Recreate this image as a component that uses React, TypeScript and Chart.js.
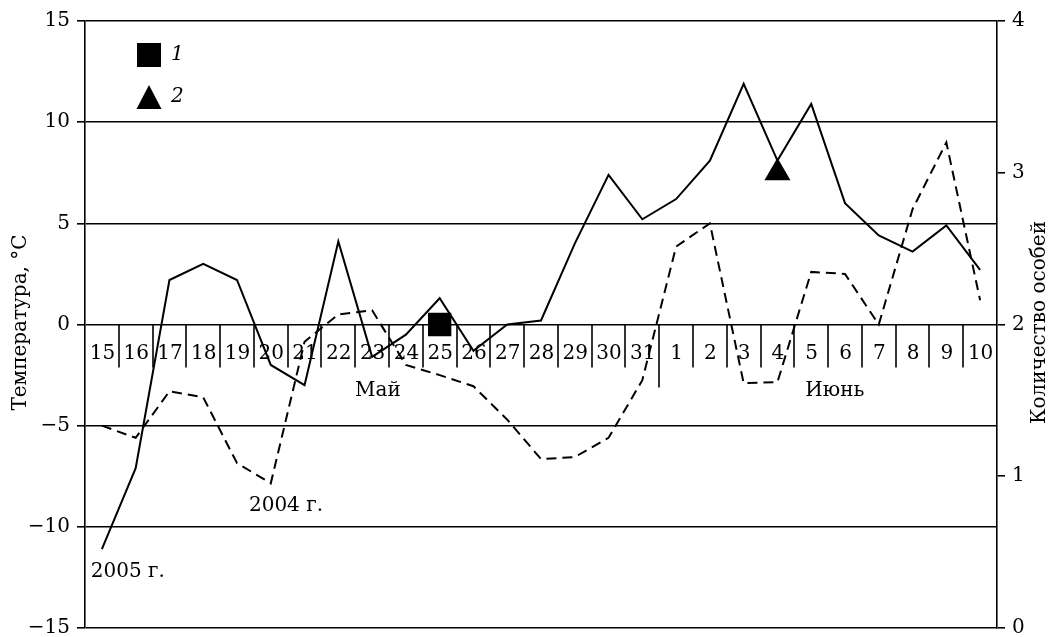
import React, { useEffect, useRef } from 'react';
import { Chart, registerables } from 'chart.js';

Chart.register(...registerables);

// ---- data ----
const categories = [
  '15', '16', '17', '18', '19', '20', '21', '22', '23', '24', '25', '26', '27', '28', '29', '30', '31',
  '1', '2', '3', '4', '5', '6', '7', '8', '9', '10',
];
const temp2005 = [
  -11.1, -7.1, 2.2, 3.0, 2.2, -2.0, -3.0, 4.1, -1.6, -0.5, 1.3, -1.3, 0.0, 0.2, 4.0, 7.4, 5.2,
  6.2, 8.1, 11.9, 8.1, 10.9, 6.0, 4.4, 3.6, 4.9, 2.7,
];
const temp2004 = [
  -5.0, -5.6, -3.3, -3.6, -6.85, -7.85, -0.85, 0.5, 0.7, -2.0, -2.5, -3.05, -4.7, -6.65, -6.55, -5.6, -2.75,
  3.85, 5.0, -2.9, -2.85, 2.6, 2.5, 0.0, 5.7, 9.0, 1.2,
];
const count1Days = ['25'];
const count1Values = [2];
const count2Days = ['4'];
const count2Values = [3];
const monthNames = ['Май', 'Июнь'];
const monthFirstDays = ['15', '1'];
const monthLastDays = ['31', '10'];
const seriesLabels = ['2005 г.', '2004 г.'];
const legendLabels = ['1', '2'];
const leftTitle = 'Температура, °С';
const rightTitle = 'Количество особей';

const FONT = '"DejaVu Serif", "Liberation Serif", serif';
const FS = 20;

const annotPlugin = {
  id: 'annot',
  beforeDatasetsDraw(chart: any) {
    const { ctx, chartArea, scales } = chart;
    const x = scales.x;
    const y = scales.y;
    const y0 = y.getPixelForValue(0);
    ctx.save();
    ctx.strokeStyle = '#000';
    ctx.lineWidth = 1.6;
    const breakIdx = categories.indexOf(monthFirstDays[1]);
    for (let i = 1; i < categories.length; i++) {
      const xs = Math.round((x.getPixelForValue(i - 1) + x.getPixelForValue(i)) / 2);
      const len = i === breakIdx ? 63 : 43;
      ctx.beginPath();
      ctx.moveTo(xs, y0);
      ctx.lineTo(xs, y0 + len);
      ctx.stroke();
    }
    ctx.fillStyle = '#000';
    ctx.font = `${FS}px ${FONT}`;
    ctx.textAlign = 'center';
    ctx.textBaseline = 'middle';
    categories.forEach((c, i) => {
      ctx.fillText(c, x.getPixelForValue(i) + 0.5, y0 + 29);
    });
    // month names
    monthNames.forEach((m, k) => {
      const a = categories.indexOf(monthFirstDays[k]);
      const b = categories.lastIndexOf(monthLastDays[k]);
      const mid = (a + b) / 2 + (k === 0 ? 0.17 : 0.2);
      ctx.fillText(m, x.getPixelForValue(mid), y0 + 66);
    });
    // series labels
    ctx.fillText(seriesLabels[0], x.getPixelForValue(0.77), y.getPixelForValue(-12.2));
    ctx.fillText(seriesLabels[1], x.getPixelForValue(5.45), y.getPixelForValue(-8.95));

    // legend
    const lx = chartArea.left + 64;
    const ly1 = chartArea.top + 34;
    const ly2 = chartArea.top + 76;
    ctx.fillRect(lx - 12, ly1 - 12, 24, 24);
    ctx.beginPath();
    ctx.moveTo(lx, ly2 - 12);
    ctx.lineTo(lx + 12.5, ly2 + 12);
    ctx.lineTo(lx - 12.5, ly2 + 12);
    ctx.closePath();
    ctx.fill();
    ctx.font = `italic ${FS}px ${FONT}`;
    ctx.textAlign = 'left';
    ctx.fillText(legendLabels[0], lx + 22, ly1);
    ctx.fillText(legendLabels[1], lx + 22, ly2);

    // axis titles
    ctx.font = `${FS}px ${FONT}`;
    ctx.textAlign = 'center';
    ctx.save();
    ctx.translate(21, (chartArea.top + chartArea.bottom) / 2 - 2);
    ctx.rotate(-Math.PI / 2);
    ctx.fillText(leftTitle, 0, 0);
    ctx.restore();
    ctx.save();
    ctx.translate(chart.width - 13, (chartArea.top + chartArea.bottom) / 2 - 2);
    ctx.rotate(-Math.PI / 2);
    ctx.fillText(rightTitle, 0, 0);
    ctx.restore();
    ctx.restore();
  },
};

export default function App() {
  const ref = useRef<HTMLCanvasElement | null>(null);
  useEffect(() => {
    if (!ref.current) return;
    const chart = new Chart(ref.current, {
      type: 'line',
      data: {
        labels: categories,
        datasets: [
          {
            label: seriesLabels[0],
            data: temp2005,
            borderColor: '#000',
            borderWidth: 2,
            pointRadius: 0,
            tension: 0,
            yAxisID: 'y',
          },
          {
            label: seriesLabels[1],
            data: temp2004,
            borderColor: '#000',
            borderWidth: 2,
            borderDash: [10, 6],
            pointRadius: 0,
            tension: 0,
            yAxisID: 'y',
          },
          {
            label: legendLabels[0],
            data: count1Days.map((d, i) => ({ x: d, y: count1Values[i] })) as any,
            showLine: false,
            pointStyle: 'rect',
            pointRadius: 16.5,
            pointBackgroundColor: '#000',
            pointBorderWidth: 0,
            yAxisID: 'y2',
          },
          {
            label: legendLabels[1],
            data: count2Days.map((d, i) => ({ x: d, y: count2Values[i] })) as any,
            showLine: false,
            pointStyle: 'triangle',
            pointRadius: 15,
            pointBackgroundColor: '#000',
            pointBorderWidth: 0,
            yAxisID: 'y2',
          },
        ],
      },
      options: {
        responsive: false,
        animation: false,
        layout: { autoPadding: false, padding: { top: 21, bottom: 9, left: 0, right: 0 } },
        plugins: { legend: { display: false }, tooltip: { enabled: false } },
        scales: {
          x: { type: 'category', display: false, offset: true },
          y: {
            position: 'left',
            min: -15,
            max: 15,
            ticks: {
              stepSize: 5,
              color: '#000',
              padding: 7,
              font: { family: FONT, size: FS, lineHeight: 0.1 },
              callback: (v: any) => String(v).replace('-', '\u2212'),
            },
            grid: { color: '#000', lineWidth: 1.6, tickLength: 8, drawTicks: true, tickColor: '#000' },
            border: { display: true, color: '#000', width: 1.6 },
            afterFit: (s: any) => { s.width = 85; },
          },
          y2: {
            position: 'right',
            min: 0,
            max: 4,
            ticks: {
              stepSize: 1,
              color: '#000',
              padding: 7,
              font: { family: FONT, size: FS, lineHeight: 0.1 },
            },
            grid: { drawOnChartArea: false, color: '#000', lineWidth: 1.6, tickLength: 8, drawTicks: true },
            border: { display: true, color: '#000', width: 1.6 },
            afterFit: (s: any) => { s.width = 56; },
          },
        },
      },
      plugins: [annotPlugin],
    });
    return () => chart.destroy();
  }, []);
  return (
    <div style={{ position: 'fixed', left: 0, top: 0, width: 1053, height: 637, background: '#fff' }}>
      <canvas ref={ref} width={1053} height={637} />
    </div>
  );
}
